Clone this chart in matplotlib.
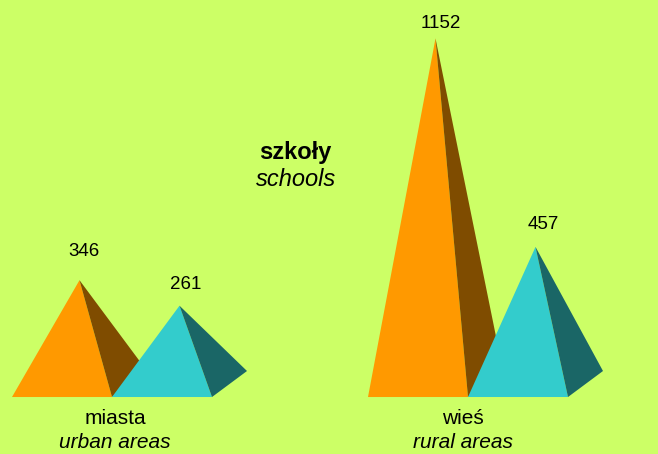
import matplotlib.pyplot as plt
from matplotlib.patches import Polygon

plt.rcParams['font.family'] = ['Liberation Sans', 'DejaVu Sans']

groups = ['miasta', 'wieś']
groups_en = ['urban areas', 'rural areas']
series_values = [[346, 261], [1152, 457]]  # per group: orange, teal
front_colors = ['#ff9900', '#33cccc']
side_colors = ['#7f4c00', '#1a6666']

group_centers = [1.12, 4.68]
label_shift = [0.03, -0.05]
# value label offsets in pixels (dx, gap above apex)
value_offsets = [[(4, 24), (6, 17)], [(5, 10), (8, 18)]]
width = 1.0
depth_x = 0.35
depth_y = 86.7
bg = '#ccff66'

fig = plt.figure(figsize=(6.58, 4.54), dpi=100, facecolor=bg)
ax = fig.add_axes([0, 0, 1, 1])
ax.set_facecolor(bg)
ax.set_xlim(0, 6.58)
ax.set_ylim(-233.3, 1280)
ax.axis('off')

px = 72 / 100  # points per pixel

for g, (gc, vals) in enumerate(zip(group_centers, series_values)):
    for i, v in enumerate(vals):
        xl = gc - width + i * width
        yf = -depth_y / 2
        apex = (xl + width / 2 + depth_x / 2, v)
        front = Polygon([(xl, yf), (xl + width, yf), apex],
                        closed=True, facecolor=front_colors[i], edgecolor='none')
        side = Polygon([(xl + width, yf), (xl + width + depth_x, yf + depth_y), apex],
                       closed=True, facecolor=side_colors[i], edgecolor='none')
        ax.add_patch(front)
        ax.add_patch(side)
        dx, dy = value_offsets[g][i]
        ax.annotate(str(v), apex, xytext=(dx * px, dy * px), textcoords='offset points',
                    ha='center', va='baseline', fontsize=13.5)
    tr = ax.get_xaxis_transform()
    ax.text(gc + label_shift[g], 1 - 418 / 454, groups[g], transform=tr,
            ha='center', va='center', fontsize=15)
    ax.text(gc + label_shift[g], 1 - 442 / 454, groups_en[g], transform=tr,
            ha='center', va='center', fontsize=15, style='italic')

fig.text(295 / 658, 1 - 152 / 454, 'szkoły', ha='center', va='center',
         fontsize=17, fontweight='bold')
fig.text(296 / 658, 1 - 179 / 454, 'schools', ha='center', va='center',
         fontsize=17, style='italic')

fig.savefig('out.png', dpi=100, facecolor=bg)
